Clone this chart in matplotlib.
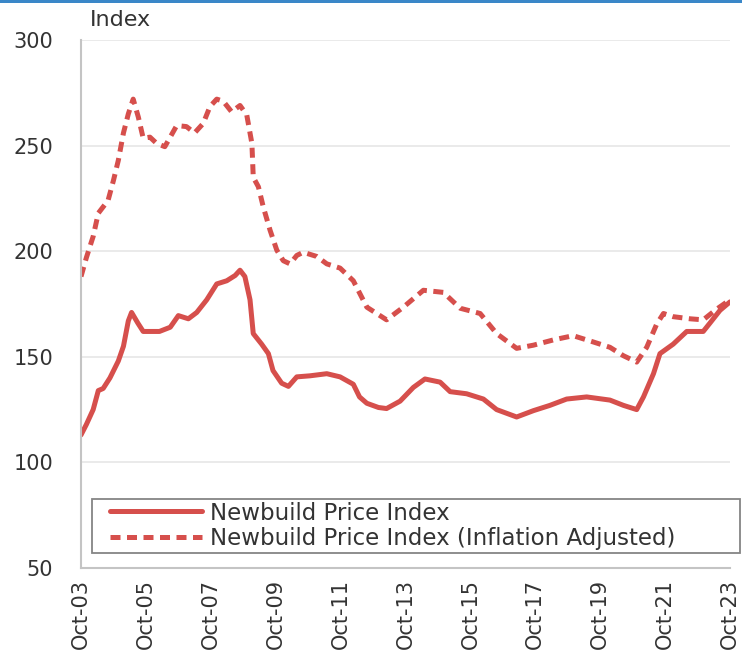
import matplotlib
matplotlib.use("Agg")
import matplotlib.pyplot as plt
from matplotlib.patches import Rectangle
from matplotlib.legend_handler import HandlerLine2D

# Months since Oct-2003 and index values
months_nominal = [0, 2, 4.5, 6.4, 8.2, 10.7, 13.8, 15.7, 17.5, 18.7, 21, 23, 26, 29, 33,
                  36, 39.7, 42.8, 46.5, 50.2, 53.9, 57, 58.8, 60.6, 62.5, 63.7, 66.8,
                  69.3, 71, 74.2, 76.7, 79.8, 84.7, 90.9, 95.8, 100.7, 103, 105.7, 110,
                  113, 118, 122.9, 127.2, 132.8, 136.5, 142.6, 148.8, 153.7, 161.1,
                  167.3, 173.4, 179.6, 187, 195.6, 200.6, 205.5, 208, 211.7, 214.1,
                  219, 224, 230.1, 232.6, 236.3, 240]
newbuild_index = [113, 118, 125, 134, 135, 140, 148, 155, 167, 171, 166, 162, 162, 162, 164,
                  169.5, 168, 171, 177, 184.5, 186, 188.5, 191, 188, 177, 161, 156,
                  151.5, 143.5, 137.5, 136, 140.5, 141, 142, 140.5, 137, 131, 128, 126,
                  125.5, 129, 135.5, 139.5, 138, 133.5, 132.5, 130, 125, 121.5,
                  124.5, 127, 130, 131, 129.5, 127, 125, 131, 142, 151.5,
                  156, 162, 162, 166, 172, 176]

months_real = [0, 2, 4.5, 6.4, 8.2, 10, 12, 13.8, 15.7, 17.5, 19.3, 21.2, 23, 25.5, 28, 31,
               35.4, 39, 42, 45.2, 47.7, 50.2, 52.6, 55.7, 58.8, 61.3, 63.2, 63.7, 65.6,
               67.4, 69.9, 72.4, 74.8, 77.3, 79.8, 82.2, 87.2, 90.9, 95.8, 100.7, 105.7,
               113, 119.2, 126.6, 134, 140.2, 147.6, 153.7, 161.1, 167.3, 174.7, 182,
               189.5, 195.6, 200.6, 205.5, 209.2, 212.9, 215.4, 219, 225.2, 230.1, 235, 240]
newbuild_index_real = [188, 197, 207, 218, 221, 224, 233.5, 243, 256, 265, 272, 263.5, 253.5,
                       254, 251, 249.5, 259.5, 259, 256, 260.5, 268.5, 272, 271, 266, 269,
                       264.5, 251, 235, 230.5, 221, 210, 200.5, 195.5, 194, 198, 199.5,
                       197.5, 194, 192, 186, 173.5, 167.5, 173.5, 181.5, 180.5, 173, 170.5,
                       161, 154, 155.5, 158, 160, 157, 154.5, 150.5, 147.5, 154.5, 165.5,
                       170.5, 169, 168, 167.5, 172.5, 177]

tick_months = [0, 24, 48, 72, 96, 120, 144, 168, 192, 216, 240]
tick_labels = ["Oct-03", "Oct-05", "Oct-07", "Oct-09", "Oct-11", "Oct-13",
               "Oct-15", "Oct-17", "Oct-19", "Oct-21", "Oct-23"]
y_ticks = [50, 100, 150, 200, 250, 300]

series_labels = ["Newbuild Price Index", "Newbuild Price Index (Inflation Adjusted)"]


class IndentedLine(HandlerLine2D):
    """Legend line handle that starts a little to the right of the frame edge."""

    def __init__(self, indent=11.0, **kw):
        super().__init__(**kw)
        self.indent = indent

    def create_artists(self, legend, orig_handle, xdescent, ydescent, width, height,
                       fontsize, trans):
        return super().create_artists(legend, orig_handle, xdescent - self.indent,
                                      ydescent, width - self.indent, height,
                                      fontsize, trans)


RED = "#d64f4c"
W, H = 742, 659
fig = plt.figure(figsize=(W / 100, H / 100), dpi=100)
ax = fig.add_axes([81 / W, 1 - 568 / H, (730 - 81) / W, (568 - 40) / H])

l1, = ax.plot(months_nominal, newbuild_index, color=RED, lw=3.6, solid_joinstyle="round",
              solid_capstyle="round", label=series_labels[0])
l2, = ax.plot(months_real, newbuild_index_real, color=RED, lw=3.6,
              linestyle=(0, (2.0, 1.3)), dash_capstyle="butt", label=series_labels[1])

ax.set_xlim(0, 240)
ax.set_ylim(50, 300)
ax.set_yticks(y_ticks)
ax.set_yticklabels([str(v) for v in y_ticks])
ax.set_xticks(tick_months)
ax.set_xticklabels(tick_labels, rotation=90, va="top", ha="center")

ax.grid(axis="y", color="#e6e6e6", lw=1.2)
ax.set_axisbelow(True)
for s in ["top", "right"]:
    ax.spines[s].set_visible(False)
for s in ["left", "bottom"]:
    ax.spines[s].set_color("#c4c4c4")
    ax.spines[s].set_linewidth(1.5)
ax.tick_params(axis="y", length=0, pad=20, labelsize=15, labelcolor="#333333")
ax.tick_params(axis="x", length=0, pad=8, labelsize=15, labelcolor="#333333")

leg = ax.legend(handles=[l1, l2], loc="lower left",
                bbox_to_anchor=(92 / W, 1 - 553 / H, (740 - 92) / W, 0.05),
                bbox_transform=fig.transFigure, mode="expand", frameon=True,
                fancybox=False, fontsize=16.5, handlelength=4.7, handletextpad=0.35,
                labelspacing=0.12, borderpad=0.12, borderaxespad=0,
                handler_map={l1: IndentedLine(indent=11.0),
                             l2: IndentedLine(indent=11.0)})
leg.get_frame().set_edgecolor("#666666")
leg.get_frame().set_linewidth(1.3)
for t in leg.get_texts():
    t.set_color("#333333")

fig.text(90 / W, 1 - 20 / H, "Index", fontsize=16, color="#333333", va="center", ha="left")

# thin blue rule along the top edge
fig.add_artist(Rectangle((0, 1 - 2.5 / H), 1, 2.5 / H, transform=fig.transFigure,
                         color="#3a87c8", lw=0))

fig.savefig("out.png", dpi=100)
